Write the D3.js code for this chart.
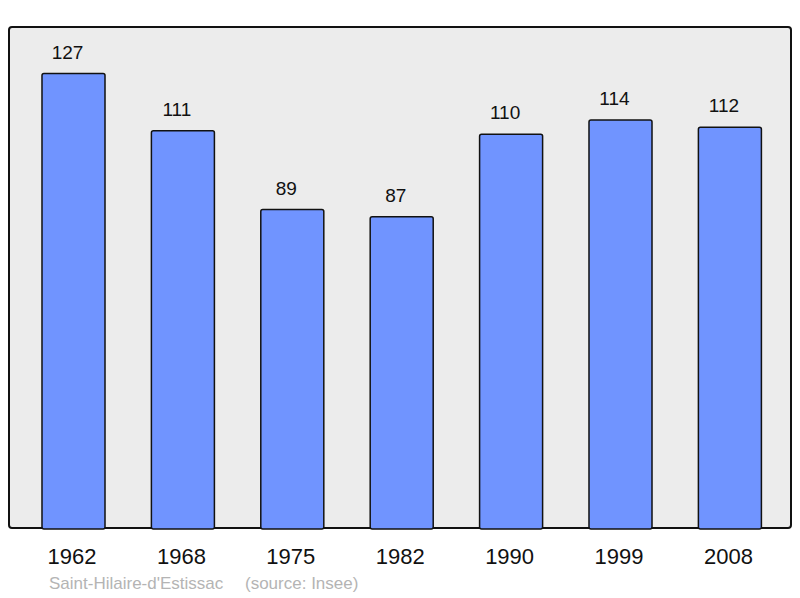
<!DOCTYPE html>
<html>
<head>
<meta charset="utf-8">
<script src="https://cdn.jsdelivr.net/npm/d3@7"></script>
<style>
  body { margin: 0; background: #fff; }
  text { font-family: "Liberation Sans", Arial, sans-serif; }
</style>
</head>
<body>
<script>
// data
var years = ["1962", "1968", "1975", "1982", "1990", "1999", "2008"];
var population = [127, 111, 89, 87, 110, 114, 112];
var commune = "Saint-Hilaire-d'Estissac";
var source = "(source: Insee)";

var ancho = 800, alto = 598;
var panel = {left: 9, top: 27, right: 791, bottom: 528};

var svg = d3.select("body").append("svg")
  .attr("width", ancho)
  .attr("height", alto);

var x = d3.scaleBand()
  .domain(years)
  .range([18.8, 784.6])
  .paddingInner(0.424)
  .paddingOuter(0.212);

var y = d3.scaleLinear()
  .domain([0, 140])
  .range([panel.bottom, panel.top]);

// fondo
svg.append("rect")
  .attr("x", panel.left)
  .attr("y", panel.top)
  .attr("width", panel.right - panel.left)
  .attr("height", panel.bottom - panel.top)
  .attr("rx", 3)
  .style("fill", "#ececec")
  .style("stroke", "#111")
  .style("stroke-width", 2);

var datos = years.map(function (d, i) { return {year: d, v: population[i]}; });

// barras
svg.selectAll("rect.bar")
  .data(datos)
  .enter()
  .append("rect")
  .attr("class", "bar")
  .attr("x", function (d) { return x(d.year); })
  .attr("y", function (d) { return y(d.v); })
  .attr("width", x.bandwidth())
  .attr("height", function (d) { return y(0) - y(d.v) + 1; })
  .attr("rx", 2)
  .style("fill", "#7094ff")
  .style("stroke", "#111")
  .style("stroke-width", 1.5);

// valores (un poco a la izquierda del centro, como en el original)
svg.selectAll("text.valor")
  .data(datos)
  .enter()
  .append("text")
  .attr("class", "valor")
  .attr("x", function (d) { return x(d.year) + x.bandwidth() / 2 - 6; })
  .attr("y", function (d) { return y(d.v) - 15; })
  .attr("text-anchor", "middle")
  .style("font-size", "19px")
  .style("fill", "#111")
  .text(function (d) { return d.v; });

// eje x (solo etiquetas)
var ejeX = svg.append("g")
  .attr("transform", "translate(-1.5," + panel.bottom + ")")
  .call(d3.axisBottom(x).tickSize(0).tickPadding(20));
ejeX.select(".domain").remove();
ejeX.selectAll("text")
  .attr("dy", "0.71em")
  .style("font-family", "\"Liberation Sans\", Arial, sans-serif")
  .style("font-size", "22px")
  .style("fill", "#111");

// pie
svg.append("text")
  .attr("x", 49)
  .attr("y", 589)
  .style("font-size", "17px")
  .style("fill", "#b4b4b4")
  .text(commune);
svg.append("text")
  .attr("x", 245)
  .attr("y", 589)
  .style("font-size", "17px")
  .style("fill", "#b4b4b4")
  .text(source);
</script>
</body>
</html>
